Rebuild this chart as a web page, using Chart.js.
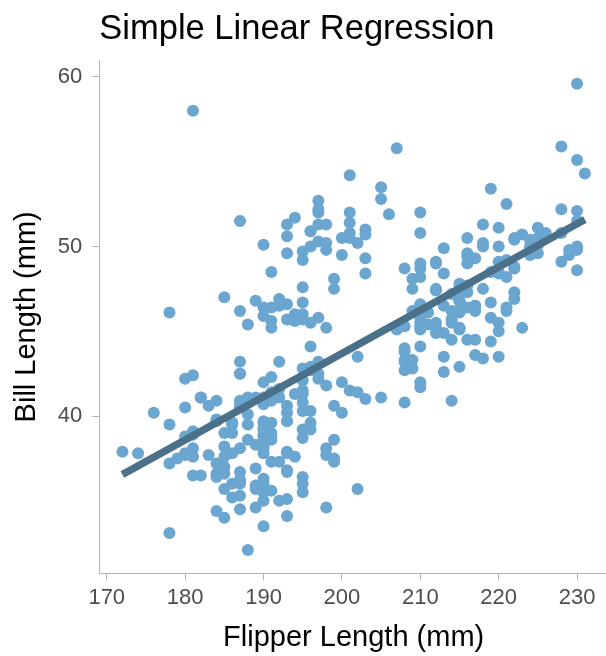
<!DOCTYPE html>
<html><head><meta charset="utf-8">
<script src="https://cdn.jsdelivr.net/npm/chart.js@4/dist/chart.umd.min.js"></script>
<style>html,body{margin:0;padding:0;overflow:hidden;background:#fff}canvas{display:block}</style>
</head><body><canvas id="c" width="614" height="656"></canvas>
<script>
// [flipper length (mm), bill length (mm)]
const adelie = [
[181,39.1],[186,39.5],[195,40.3],[193,36.7],[190,39.3],[181,38.9],[195,39.2],[193,34.1],[190,42.0],[186,37.8],
[180,37.8],[182,41.1],[191,38.6],[198,34.6],[185,36.6],[195,38.7],[197,42.5],[184,34.4],[194,46.0],[174,37.8],
[180,37.7],[189,35.9],[185,38.2],[180,38.8],[187,35.3],[183,40.6],[187,40.5],[172,37.9],[180,40.5],[178,39.5],
[178,37.2],[188,39.5],[184,40.9],[195,36.4],[196,39.2],[190,38.8],[180,42.2],[181,37.6],[184,39.8],[182,36.5],
[195,40.8],[186,36.0],[196,44.1],[185,37.0],[190,39.6],[182,41.1],[179,37.5],[190,36.0],[191,42.3],[186,39.6],
[188,40.1],[190,35.0],[200,42.0],[187,34.5],[191,41.4],[186,39.0],[193,40.6],[181,36.5],[194,37.6],[185,35.7],
[195,41.3],[185,37.6],[192,41.1],[184,36.4],[192,41.6],[195,35.5],[188,41.1],[190,35.9],[198,41.8],[190,33.5],
[190,39.7],[196,39.6],[197,45.8],[190,35.5],[195,42.8],[191,40.9],[184,37.2],[187,36.2],[195,42.1],[189,34.6],
[196,42.9],[187,36.7],[193,35.1],[191,37.3],[194,41.3],[190,36.3],[189,36.9],[189,38.3],[190,38.9],[202,35.7],
[205,41.1],[185,34.0],[186,39.6],[187,36.2],[208,40.8],[190,38.1],[196,40.3],[178,33.1],[192,43.2],[192,35.0],
[203,41.0],[183,37.7],[190,37.8],[193,37.9],[184,39.7],[199,38.6],[190,38.2],[181,38.1],[197,43.2],[198,38.1],
[191,45.6],[193,39.7],[197,42.2],[191,39.6],[196,42.7],[188,38.6],[199,37.3],[189,35.7],[189,41.1],[187,36.2],
[198,37.7],[176,40.2],[202,41.4],[186,35.2],[199,40.6],[191,38.8],[195,41.5],[191,39.0],[210,44.1],[190,38.5],
[197,43.1],[193,36.8],[199,37.5],[187,38.1],[190,41.1],[191,35.6],[200,40.2],[185,37.0],[193,39.7],[193,40.2],
[187,40.6],[188,32.1],[190,40.7],[192,37.3],[185,39.0],[190,39.2],[184,36.6],[195,36.0],[193,37.8],[187,36.0],
[201,41.5]
];
const chinstrap = [
[192,46.5],[196,50.0],[193,51.3],[188,45.4],[197,52.7],[198,45.2],[178,46.1],[197,51.3],[195,46.0],[198,51.3],
[193,46.6],[194,51.7],[185,47.0],[201,52.0],[190,45.9],[201,50.5],[197,50.3],[181,58.0],[190,46.4],[195,49.2],
[181,42.4],[191,48.5],[187,43.2],[193,50.6],[195,46.7],[197,52.0],[200,50.5],[200,49.5],[191,46.4],[205,52.8],
[187,40.9],[201,54.2],[187,42.5],[203,51.0],[195,49.7],[199,47.5],[195,47.6],[210,52.0],[192,46.9],[205,53.5],
[210,49.0],[187,46.2],[196,50.9],[196,45.5],[196,50.9],[201,50.8],[190,50.1],[212,49.0],[187,51.5],[198,49.8],
[199,48.1],[201,51.4],[193,45.7],[203,50.7],[187,42.5],[197,52.2],[191,45.2],[203,49.3],[202,50.2],[194,45.6],
[206,51.9],[189,46.8],[195,45.7],[207,55.8],[202,43.5],[193,49.6],[210,50.8],[198,50.2]
];
const gentoo = [
[211,46.1],[230,50.0],[210,48.7],[218,50.0],[215,47.6],[210,46.5],[211,45.4],[219,46.7],[209,43.3],[215,46.8],
[214,40.9],[216,49.0],[214,45.5],[213,48.4],[210,45.8],[217,49.3],[210,42.0],[221,49.2],[209,46.2],[222,48.7],
[218,50.2],[215,45.1],[213,46.5],[215,46.3],[215,42.9],[215,46.1],[216,44.5],[215,47.8],[210,48.2],[220,50.0],
[222,47.3],[209,42.8],[207,45.1],[230,59.6],[220,49.1],[220,48.4],[213,42.6],[219,44.4],[208,44.0],[208,48.7],
[208,42.7],[225,49.6],[210,45.3],[216,49.6],[222,50.5],[217,43.6],[210,45.5],[225,50.5],[213,44.9],[215,45.2],
[210,46.6],[220,48.5],[210,45.1],[225,50.1],[217,46.5],[220,45.0],[208,43.8],[220,45.5],[208,43.2],[224,50.4],
[208,45.3],[221,46.2],[214,45.7],[231,54.3],[219,45.8],[230,49.8],[214,46.2],[229,49.5],[220,43.5],[223,50.7],
[216,47.7],[221,46.4],[221,48.2],[217,46.5],[216,46.4],[230,48.6],[209,47.5],[220,51.1],[215,45.2],[223,45.2],
[212,49.1],[221,52.5],[212,47.4],[224,50.0],[212,44.9],[228,50.8],[218,43.4],[218,51.3],[212,47.5],[230,52.1],
[218,47.5],[228,52.2],[212,45.5],[224,49.5],[214,44.5],[226,50.8],[216,49.4],[222,46.9],[203,48.4],[225,51.1],
[219,48.5],[228,55.9],[215,47.2],[228,49.1],[216,47.3],[215,46.8],[210,41.7],[219,53.4],[208,43.3],[209,48.1],
[216,50.5],[229,49.8],[213,43.5],[230,51.5],[217,46.2],[230,55.1],[217,44.5],[222,48.8],[214,47.2],[215,46.8],
[222,50.4],[212,45.2],[213,49.9]
];
const xTicks = [170,180,190,200,210,220,230];
const yTicks = [40,50,60];
const titleText = 'Simple Linear Regression';
const xTitle = 'Flipper Length (mm)';
const yTitle = 'Bill Length (mm)';

const all = adelie.concat(chinstrap, gentoo);
const points = all.map(p => ({x: p[0], y: p[1]}));

// least squares fit
const n = points.length;
const mx = points.reduce((s,p)=>s+p.x,0)/n;
const my = points.reduce((s,p)=>s+p.y,0)/n;
let sxy = 0, sxx = 0;
points.forEach(p => { sxy += (p.x-mx)*(p.y-my); sxx += (p.x-mx)*(p.x-mx); });
const slope = sxy/sxx, intercept = my - slope*mx;
const xs = points.map(p=>p.x), ys = points.map(p=>p.y);
const xMin = Math.min(...xs), xMax = Math.max(...xs);
const yMin = Math.min(...ys), yMax = Math.max(...ys);
const fit = [xMin, xMax].map(x => ({x, y: intercept + slope*x}));
const xPad = (xMax-xMin)*0.05, yPad = (yMax-yMin)*0.05;

const FONT = "'Liberation Sans', Arial, Helvetica, sans-serif";
const AXIS = '#b3b3b3';

new Chart(document.getElementById('c'), {
  type: 'scatter',
  data: { datasets: [
    { data: fit, showLine: true, borderColor: '#4b7089', borderWidth: 7.5, pointRadius: 0, borderCapStyle: 'butt', order: 0 },
    { data: points, backgroundColor: '#6aa6cf', pointRadius: 6, pointBorderWidth: 0, borderWidth: 0, order: 1 }
  ]},
  options: {
    responsive: false, animation: false, devicePixelRatio: 1,
    layout: { padding: { left: 0, right: 1, top: 0, bottom: 0 } },
    plugins: {
      legend: { display: false }, tooltip: { enabled: false },
      title: { display: true, text: titleText, align: 'start', fullSize: false, color: '#000',
        font: { family: FONT, size: 34.5, weight: 'normal', lineHeight: 1.2 }, padding: { top: 9, bottom: 10 } }
    },
    scales: {
      x: {
        type: 'linear', min: xMin - xPad, max: xMax + xPad,
        afterBuildTicks: s => { s.ticks = xTicks.map(v => ({value: v})); },
        afterFit: s => { s.height = 82.7; s.paddingLeft = 0; s.paddingRight = 0; },
        ticks: { color: '#4d4d4d', font: { family: FONT, size: 22 }, padding: 4, maxRotation: 0, autoSkip: false },
        grid: { display: true, drawOnChartArea: false, drawTicks: true, tickLength: 7, color: AXIS },
        border: { display: true, color: AXIS, width: 1 },
        title: { display: true, text: xTitle, color: '#000', font: { family: FONT, size: 29, lineHeight: 1.2 }, padding: { top: 0, bottom: 1 } }
      },
      y: {
        type: 'linear', min: yMin - yPad, max: yMax + yPad,
        afterBuildTicks: s => { s.ticks = yTicks.map(v => ({value: v})); },
        afterFit: s => { s.width = 99.3; s.paddingTop = 0; s.paddingBottom = 0; },
        ticks: { color: '#4d4d4d', font: { family: FONT, size: 22 }, padding: 10 },
        grid: { display: true, drawOnChartArea: false, drawTicks: true, tickLength: 7, color: AXIS },
        border: { display: true, color: AXIS, width: 1 },
        title: { display: true, text: yTitle, color: '#000', font: { family: FONT, size: 29, lineHeight: 1.2 }, padding: { top: 10, bottom: 0 } }
      }
    }
  }
});
</script>
</body></html>
